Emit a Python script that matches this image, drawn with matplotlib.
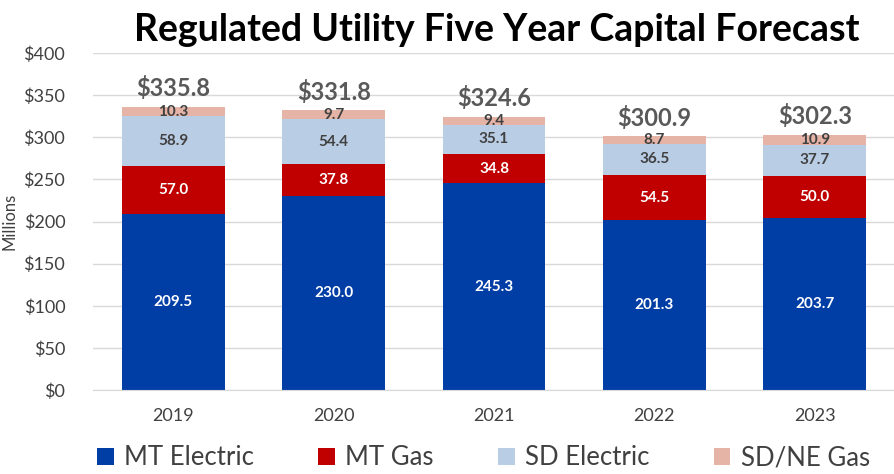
import numpy as np
import matplotlib.pyplot as plt
from matplotlib.ticker import FuncFormatter

plt.rcParams['font.family'] = ['Lato', 'DejaVu Sans']

years = ['2019', '2020', '2021', '2022', '2023']
mt_electric = [209.5, 230.0, 245.3, 201.3, 203.7]
mt_gas = [57.0, 37.8, 34.8, 54.5, 50.0]
sd_electric = [58.9, 54.4, 35.1, 36.5, 37.7]
sdne_gas = [10.3, 9.7, 9.4, 8.7, 10.9]
totals = [335.8, 331.8, 324.6, 300.9, 302.3]

series = [mt_electric, mt_gas, sd_electric, sdne_gas]
names = ['MT Electric', 'MT Gas', 'SD Electric', 'SD/NE Gas']
colors = ['#003DA5', '#C00000', '#B9CDE5', '#E6B4A6']
text_colors = ['white', 'white', '#404040', '#404040']

fig = plt.figure(figsize=(8.95, 4.74), dpi=100)
ax = fig.add_axes([0.104, 0.177, 0.896, 0.711])

x = np.arange(len(years))
bottom = np.zeros(len(years))
for vals, name, col, tc in zip(series, names, colors, text_colors):
    bars = ax.bar(x, vals, 0.64, bottom=bottom, color=col, label=name, zorder=2)
    for b, v, b0 in zip(bars, vals, bottom):
        ax.text(b.get_x() + b.get_width() / 2, b0 + v / 2, f'{v:.1f}',
                ha='center', va='center', color=tc, fontsize=11, fontweight='bold', zorder=3)
    bottom += np.array(vals)

for xi, t in zip(x, totals):
    ax.annotate(f'${t:.1f}', (xi, t), xytext=(0, 5), textcoords='offset points',
                ha='center', va='bottom', fontsize=17, fontweight='bold', color='#595959')

ax.set_xlim(-0.5, 4.5)
ax.set_ylim(0, 400)
ax.set_yticks(range(0, 401, 50))
ax.yaxis.set_major_formatter(FuncFormatter(lambda v, p: f'${v:.0f}'))
ax.set_xticks(x)
ax.set_xticklabels(years)
ax.grid(axis='y', color='#D9D9D9', linewidth=1, zorder=0)
for s in ['top', 'right', 'left']:
    ax.spines[s].set_visible(False)
ax.spines['bottom'].set_color('#D9D9D9')
ax.tick_params(length=0, labelsize=13, colors='#404040')
ax.tick_params(axis='y', pad=20)
ax.tick_params(axis='x', pad=13)
ax.set_ylabel('Millions', fontsize=12, color='#404040', labelpad=4)

fig.text(0.555, 0.937, 'Regulated Utility Five Year Capital Forecast',
         ha='center', va='center', fontsize=27, fontweight='bold', color='black')

fig.legend(loc='center', bbox_to_anchor=(0.54, 0.034), ncol=4, frameon=False,
           fontsize=18.5, labelcolor='#404040', handlelength=0.65, handleheight=0.65,
           handletextpad=0.4, columnspacing=2.5)

fig.savefig('out.png', dpi=100)
